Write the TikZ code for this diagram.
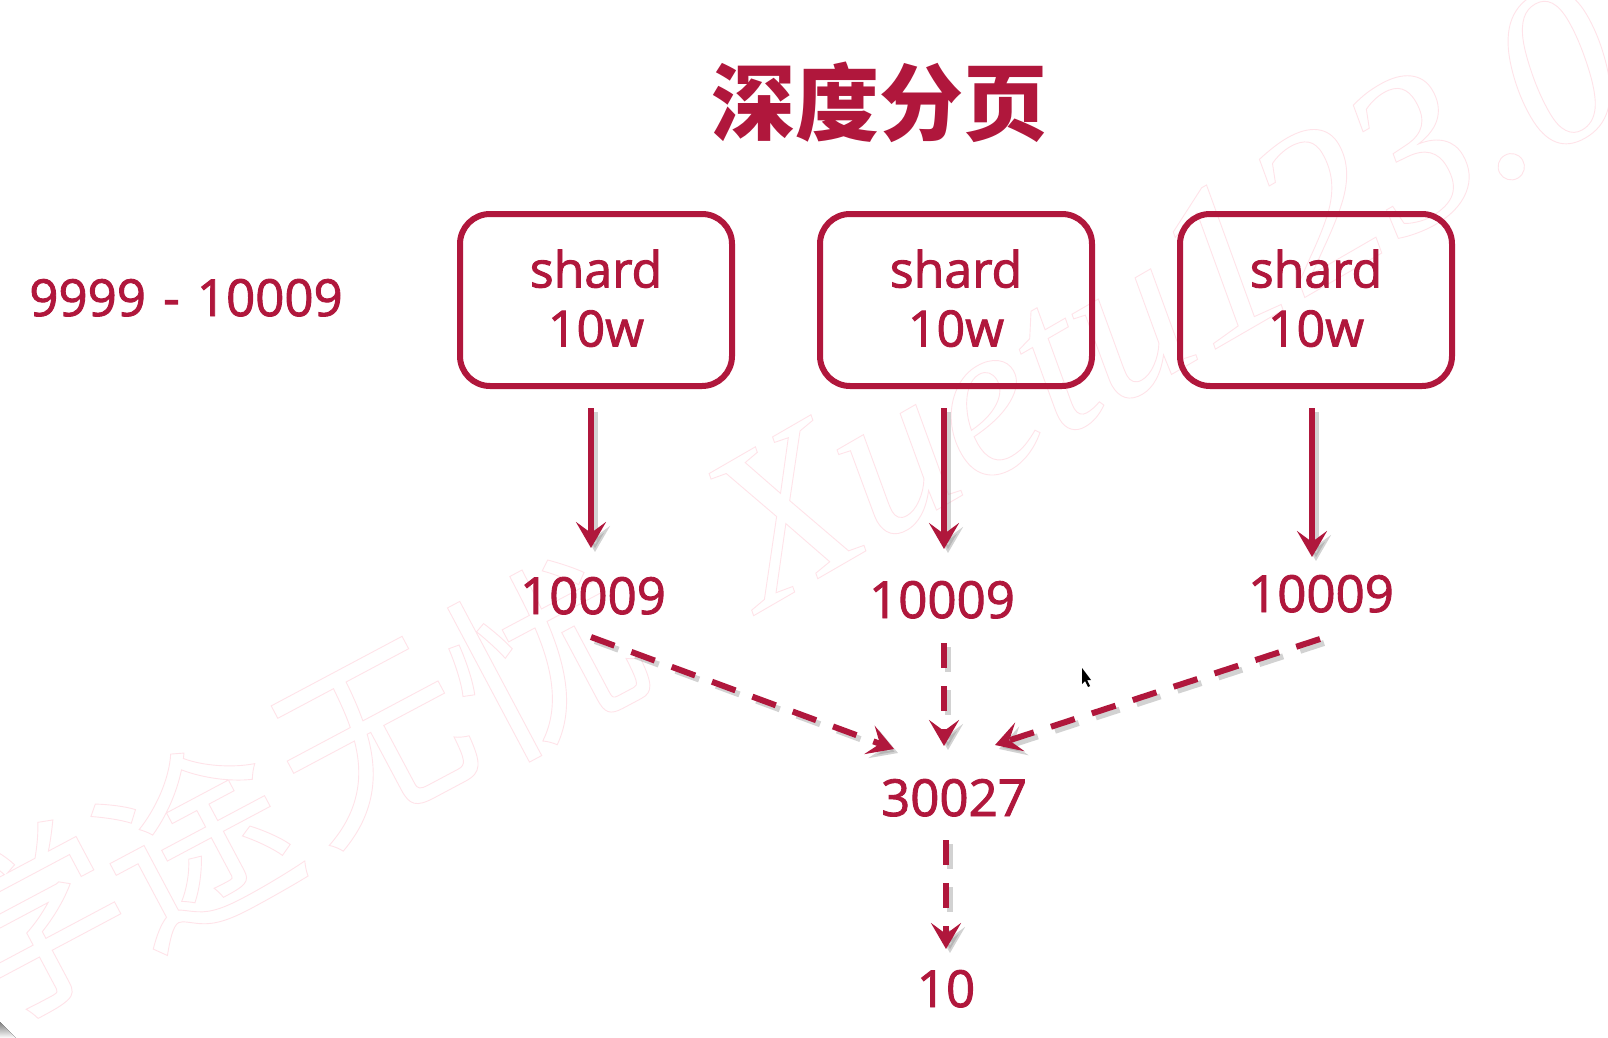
\documentclass[tikz,border=0pt]{standalone}
\usepackage{fontspec}
\setmainfont{Open Sans}
\newfontfamily\cjk{Noto Sans CJK SC}
\newfontfamily\wmlatin{Liberation Serif}
\usetikzlibrary{arrows.meta}
\definecolor{crim}{HTML}{B0173C}
\definecolor{wm}{HTML}{FFE3E9}
\definecolor{shade}{HTML}{8A8A8A}
\newcommand\outlined[1]{\special{pdf:code 1 Tr 0.9 w}#1\special{pdf:code 0 Tr 1 w}}
\newcommand\heavy[1]{\special{pdf:code 2 Tr 0.9 w}#1\special{pdf:code 0 Tr 1 w}}
\newcommand\shardtext{\heavy{shard}\\\heavy{10w}\rule[-4pt]{0pt}{4pt}}
\tikzset{
  sharddbox/.style={draw=crim,line width=6pt,rounded corners=30pt,minimum width=272pt,minimum height=172pt,inner sep=0pt,outer sep=0pt,align=center,text=crim,font=\fontsize{50}{59}\selectfont},
  numlabel/.style={text=crim,inner sep=0pt,outer sep=0pt,text height=36pt,text depth=0pt,font=\fontsize{51}{60}\selectfont},
  tipsolid/.style={-{Stealth[length=26pt,width=30pt,inset=11pt]}},
  solidlink/.style={line width=5.5pt,tipsolid},
  dashlink/.style={line width=6pt,tipsolid,dash pattern=on 25pt off 18pt},
  inkcol/.style={draw=crim,color=crim},
  shadecol/.style={draw=shade,color=shade,opacity=.38},
  watermark/.style={text=wm,inner sep=0pt,outer sep=0pt}
}
\newcommand\linkdraw[3]{%
  \begin{scope}[transform canvas={shift={(4pt,-4pt)}}]
    \draw[#1,shadecol] #2 -- #3;
  \end{scope}
  \draw[#1,inkcol] #2 -- #3;
}
\begin{document}
\begin{tikzpicture}[x=1pt,y=-1pt]
\useasboundingbox (0,0) rectangle (1608,1038);
\fill[white] (0,0) rectangle (1608,1038);
\begin{scope}
\clip (0,0) rectangle (1608,1038);
% watermark
\node[watermark,rotate=28] (wma) at (30,923) {\fontsize{190}{190}\selectfont\cjk\outlined{学}};
\node[watermark,rotate=28] (wmb) at (195,841) {\fontsize{190}{190}\selectfont\cjk\outlined{途}};
\node[watermark,rotate=28] (wmc) at (374,743) {\fontsize{190}{190}\selectfont\cjk\outlined{无}};
\node[watermark,rotate=28] (wmd) at (543,656) {\fontsize{190}{190}\selectfont\cjk\outlined{忧}};
\node[watermark,rotate=30,anchor=base west] (wme) at (760,612) {\fontsize{222}{222}\selectfont\wmlatin\itshape\outlined{Xuetu123.0}};
% corner and pointer
\fill[shade] (0,1022) -- (16,1038) -- (0,1038) -- cycle;
\fill[black] (1082,668) -- (1082,684) -- (1085,681) -- (1088,687) -- (1090,686) -- (1087,680) -- (1091,680) -- cycle;
\end{scope}
% title
\node[inner sep=0pt,text=crim] (title) at (879,102) {\fontsize{84}{84}\selectfont\cjk\bfseries 深度分页};
\node[numlabel] (range) at (186,298) {\heavy{9999\hspace{4pt} - \hspace{4pt}10009}};
% shards
\node[sharddbox] (s1) at (596,300) {\shardtext};
\node[sharddbox] (s2) at (956,300) {\shardtext};
\node[sharddbox] (s3) at (1316,300) {\shardtext};
% numbers
\node[numlabel] (n1) at (593,596) {\heavy{10009}};
\node[numlabel] (n2) at (942,600) {\heavy{10009}};
\node[numlabel] (n3) at (1321,594) {\heavy{10009}};
\node[numlabel] (sum) at (954,798) {\heavy{30027}};
\node[numlabel] (res) at (946,989) {\heavy{10}};
% connectors
\linkdraw{solidlink}{([shift={(-5,22)}]s1.south)}{([shift={(-2,-30)}]n1.north)}
\linkdraw{solidlink}{([shift={(-12,22)}]s2.south)}{([shift={(2,-33)}]n2.north)}
\linkdraw{solidlink}{([shift={(-4,22)}]s3.south)}{([shift={(-9,-19)}]n3.north)}
\linkdraw{dashlink}{([shift={(-2,23)}]n1.south)}{([shift={(-60,-31)}]sum.north)}
\linkdraw{dashlink}{([shift={(2,25)}]n2.south)}{([shift={(-10,-34)}]sum.north)}
\linkdraw{dashlink}{([shift={(-1,27)}]n3.south)}{([shift={(41,-35)}]sum.north)}
\linkdraw{dashlink}{([shift={(-8,24)}]sum.south)}{([shift={(0,-22)}]res.north)}
\end{tikzpicture}
\end{document}
